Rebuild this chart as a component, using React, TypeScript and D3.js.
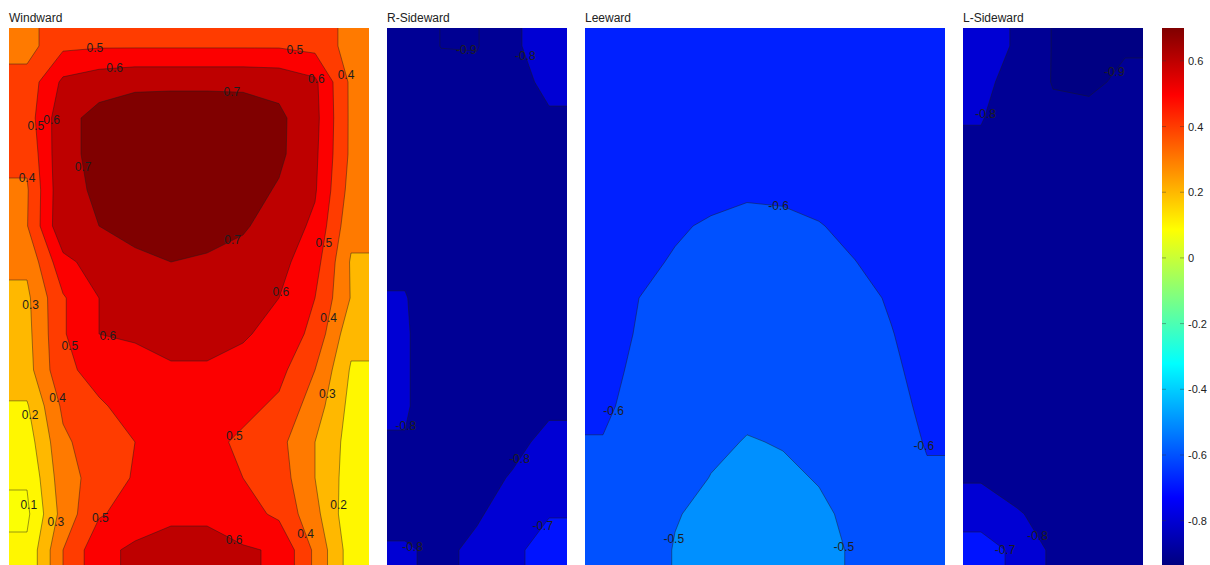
import React from 'react';
import * as d3 from 'd3';

// ---------- data ----------
const CMIN = -0.935;
const CMAX = 0.7;
const colorbarTicks = [-0.8, -0.6, -0.4, -0.2, 0, 0.2, 0.4, 0.6];

const panelTitles = ['Windward', 'R-Sideward', 'Leeward', 'L-Sideward'];

const windwardLevels = [0.1, 0.2, 0.3, 0.4, 0.5, 0.6, 0.7];
const rSideLevels = [-0.9, -0.8, -0.7];
const leewardLevels = [-0.6, -0.5];
const lSideLevels = [-0.9, -0.8, -0.7, -0.6];

const windwardGrid = [
  [0.36, 0.48, 0.49, 0.49, 0.49, 0.49, 0.49, 0.49, 0.47, 0.36],
  [0.44, 0.62, 0.66, 0.68, 0.68, 0.68, 0.68, 0.67, 0.62, 0.38],
  [0.45, 0.67, 0.73, 0.75, 0.76, 0.76, 0.75, 0.72, 0.63, 0.38],
  [0.42, 0.68, 0.72, 0.76, 0.77, 0.77, 0.76, 0.72, 0.62, 0.38],
  [0.39, 0.68, 0.71, 0.75, 0.76, 0.76, 0.74, 0.69, 0.61, 0.36],
  [0.395, 0.685, 0.70, 0.73, 0.74, 0.73, 0.71, 0.66, 0.58, 0.33],
  [0.32, 0.57, 0.65, 0.68, 0.70, 0.69, 0.67, 0.63, 0.54, 0.29],
  [0.28, 0.49, 0.60, 0.64, 0.66, 0.66, 0.64, 0.60, 0.50, 0.295],
  [0.27, 0.49, 0.60, 0.61, 0.63, 0.63, 0.61, 0.57, 0.47, 0.23],
  [0.26, 0.48, 0.53, 0.57, 0.59, 0.59, 0.57, 0.53, 0.40, 0.19],
  [0.19, 0.42, 0.49, 0.53, 0.56, 0.56, 0.53, 0.48, 0.35, 0.17],
  [0.15, 0.38, 0.46, 0.50, 0.53, 0.53, 0.48, 0.43, 0.30, 0.16],
  [0.11, 0.36, 0.44, 0.51, 0.54, 0.54, 0.50, 0.45, 0.30, 0.15],
  [0.08, 0.34, 0.49, 0.54, 0.58, 0.58, 0.54, 0.48, 0.33, 0.13],
  [0.12, 0.40, 0.57, 0.62, 0.64, 0.64, 0.61, 0.59, 0.38, 0.15],
];

const rSideGrid = [
  [-0.84, -0.902, -0.905, -0.82, -0.74],
  [-0.85, -0.87, -0.87, -0.83, -0.78],
  [-0.84, -0.86, -0.86, -0.85, -0.81],
  [-0.84, -0.86, -0.86, -0.86, -0.85],
  [-0.84, -0.86, -0.86, -0.86, -0.85],
  [-0.83, -0.86, -0.86, -0.86, -0.85],
  [-0.82, -0.86, -0.86, -0.86, -0.85],
  [-0.795, -0.86, -0.86, -0.86, -0.85],
  [-0.79, -0.86, -0.86, -0.86, -0.85],
  [-0.79, -0.86, -0.86, -0.86, -0.85],
  [-0.79, -0.86, -0.86, -0.85, -0.82],
  [-0.805, -0.86, -0.86, -0.83, -0.77],
  [-0.84, -0.85, -0.84, -0.79, -0.73],
  [-0.83, -0.84, -0.81, -0.76, -0.705],
  [-0.79, -0.82, -0.78, -0.72, -0.66],
];

const leewardGrid = [
  [-0.68, -0.68, -0.68, -0.675, -0.67, -0.67, -0.675, -0.68, -0.68, -0.68],
  [-0.68, -0.68, -0.675, -0.67, -0.665, -0.665, -0.67, -0.675, -0.68, -0.68],
  [-0.675, -0.675, -0.67, -0.66, -0.65, -0.65, -0.66, -0.67, -0.675, -0.675],
  [-0.67, -0.665, -0.655, -0.64, -0.63, -0.63, -0.64, -0.655, -0.665, -0.67],
  [-0.66, -0.65, -0.635, -0.62, -0.608, -0.61, -0.62, -0.635, -0.65, -0.66],
  [-0.645, -0.63, -0.608, -0.592, -0.585, -0.588, -0.597, -0.615, -0.635, -0.645],
  [-0.635, -0.615, -0.594, -0.58, -0.575, -0.575, -0.583, -0.599, -0.62, -0.635],
  [-0.63, -0.60, -0.585, -0.575, -0.57, -0.57, -0.575, -0.585, -0.605, -0.625],
  [-0.625, -0.595, -0.58, -0.565, -0.555, -0.555, -0.565, -0.575, -0.598, -0.62],
  [-0.615, -0.59, -0.57, -0.55, -0.54, -0.54, -0.55, -0.565, -0.592, -0.615],
  [-0.608, -0.585, -0.56, -0.54, -0.52, -0.525, -0.54, -0.56, -0.585, -0.61],
  [-0.598, -0.578, -0.55, -0.52, -0.495, -0.505, -0.525, -0.55, -0.58, -0.603],
  [-0.59, -0.57, -0.54, -0.497, -0.48, -0.485, -0.505, -0.535, -0.565, -0.595],
  [-0.585, -0.56, -0.505, -0.48, -0.47, -0.47, -0.485, -0.52, -0.56, -0.59],
  [-0.58, -0.55, -0.495, -0.47, -0.46, -0.46, -0.475, -0.51, -0.555, -0.585],
];

const lSideGrid = [
  [-0.76, -0.81, -0.905, -0.93, -0.91],
  [-0.78, -0.83, -0.905, -0.92, -0.88],
  [-0.795, -0.85, -0.88, -0.87, -0.87],
  [-0.82, -0.86, -0.87, -0.87, -0.87],
  [-0.84, -0.86, -0.87, -0.87, -0.87],
  [-0.84, -0.86, -0.87, -0.87, -0.87],
  [-0.84, -0.86, -0.87, -0.87, -0.87],
  [-0.84, -0.86, -0.87, -0.87, -0.87],
  [-0.84, -0.86, -0.87, -0.87, -0.87],
  [-0.84, -0.86, -0.87, -0.87, -0.87],
  [-0.84, -0.86, -0.87, -0.87, -0.87],
  [-0.83, -0.86, -0.87, -0.87, -0.87],
  [-0.81, -0.85, -0.86, -0.87, -0.87],
  [-0.74, -0.79, -0.84, -0.86, -0.87],
  [-0.66, -0.72, -0.82, -0.85, -0.86],
];

// contour labels: [level, approx column, approx row] in grid units
const windwardLabels = [
  [0.5, 2.39, 0.61], [0.5, 7.94, 0.61], [0.6, 2.94, 1.17], [0.6, 8.42, 1.5],
  [0.4, 9.56, 1.25], [0.7, 6.19, 1.78], [0.5, 0.78, 2.72], [0.6, 1.28, 2.56],
  [0.4, 0.58, 4.08], [0.7, 2.11, 3.86], [0.7, 6.28, 6.03], [0.5, 8.78, 5.97],
  [0.6, 7.61, 7.36], [0.3, 0.58, 7.69], [0.6, 2.81, 8.31], [0.4, 8.92, 8.06],
  [0.5, 1.75, 8.81], [0.4, 1.42, 10.25], [0.3, 9.0, 10.19], [0.2, 0.58, 10.75],
  [0.5, 6.42, 11.5], [0.1, 0.53, 13.25], [0.3, 1.28, 13.72], [0.5, 2.61, 13.72],
  [0.2, 9.0, 13.25], [0.4, 8.36, 14.0], [0.6, 6.14, 14.44],
];
const rSideLabels = [
  [-0.9, 2.22, 0.39], [-0.8, 3.89, 0.75], [-0.8, 0.64, 11.08],
  [-0.8, 3.92, 12.14], [-0.7, 4.39, 13.89], [-0.8, 0.58, 14.58],
];
const leewardLabels = [
  [-0.6, 5.36, 5.11], [-0.6, 0.75, 10.61], [-0.6, 9.53, 11.58],
  [-0.5, 2.5, 14.19], [-0.5, 6.89, 14.5],
];
const lSideLabels = [
  [-0.9, 4.0, 1.08], [-0.8, 0.75, 2.42], [-0.8, 2.28, 14.0], [-0.7, 1.44, 14.31],
];

// ---------- helpers ----------
function jet(t: number) {
  const c = (v: number) => Math.max(0, Math.min(1, v));
  const r = c(Math.min(4 * t - 1.5, -4 * t + 4.5));
  const g = c(Math.min(4 * t - 0.5, -4 * t + 3.5));
  const b = c(Math.min(4 * t + 0.5, -4 * t + 2.5));
  return d3.rgb(r * 255, g * 255, b * 255).formatHex();
}
const norm = d3.scaleLinear().domain([CMIN, CMAX]).range([0, 1]).clamp(true);
const colorOf = (v: number) => jet(norm(v));

const FONT = "'Liberation Sans', Arial, Helvetica, sans-serif";
const TOP = 28;
const CELL = 36;

// nearest point on a level's contour (ignoring the padded outer frame)
function snap(coords: number[][][][], gx: number, gy: number, n: number, m: number) {
  let best: number[] | null = null;
  let bd = Infinity;
  for (const poly of coords) {
    for (const ring of poly) {
      for (let i = 0; i < ring.length - 1; i++) {
        const a = ring[i], b = ring[i + 1];
        if (a[0] <= 0.6 || a[0] >= n - 0.6 || a[1] <= 0.6 || a[1] >= m - 0.6) continue;
        if (b[0] <= 0.6 || b[0] >= n - 0.6 || b[1] <= 0.6 || b[1] >= m - 0.6) continue;
        const dx = b[0] - a[0], dy = b[1] - a[1];
        const L = dx * dx + dy * dy;
        let t = L ? ((gx - a[0]) * dx + (gy - a[1]) * dy) / L : 0;
        t = Math.max(0, Math.min(1, t));
        const px = a[0] + t * dx, py = a[1] + t * dy;
        const d = (px - gx) ** 2 + (py - gy) ** 2;
        if (d < bd) { bd = d; best = [px, py]; }
      }
    }
  }
  return best && bd < 2.25 ? best : [gx, gy];
}

function Panel({ id, title, grid, levels, labels, x0 }: any) {
  const rows = grid.length;
  const cols = grid[0].length;
  // replicate the edge samples once so the fill reaches the panel border
  const padded: number[][] = [grid[0], ...grid, grid[rows - 1]].map((r: number[]) => [r[0], ...r, r[r.length - 1]]);
  const pc = cols + 2, pr = rows + 2;
  const xs = d3.scaleLinear().domain([1, cols + 1]).range([x0, x0 + cols * CELL]);
  const ys = d3.scaleLinear().domain([1, rows + 1]).range([TOP, TOP + rows * CELL]);
  const flat: number[] = padded.flat();
  const contours = d3.contours().size([pc, pr]).thresholds(levels)(flat);
  const path = d3.geoPath(
    d3.geoTransform({
      point(this: any, x: number, y: number) {
        this.stream.point(xs(x), ys(y));
      },
    })
  );
  const minV = d3.min(flat) as number;
  const clipId = `clip-${id}`;
  const px0 = xs(1), py0 = ys(1), pw = xs(cols + 1) - xs(1), ph = ys(rows + 1) - ys(1);
  return (
    <g>
      <text x={x0} y={22} fontFamily={FONT} fontSize={12} fill="#222">{title}</text>
      <defs>
        <clipPath id={clipId}>
          <rect x={px0} y={py0} width={pw} height={ph} />
        </clipPath>
      </defs>
      <g clipPath={`url(#${clipId})`}>
        <rect x={px0} y={py0} width={pw} height={ph} fill={colorOf(minV)} />
        {contours.map((c, i) => (
          <path key={i} d={path(c as any) || ''} fill={colorOf(c.value)}
            stroke="#1a1a1a" strokeWidth={0.6} strokeOpacity={0.75} />
        ))}
      </g>
      {labels.map((lb: number[], i: number) => {
        const idx = levels.indexOf(lb[0]);
        const c = contours[idx];
        const p = c ? snap(c.coordinates as any, lb[1] + 1, lb[2] + 1, pc, pr) : [lb[1] + 1, lb[2] + 1];
        return (
          <text key={i} x={xs(p[0])} y={ys(p[1])} textAnchor="middle" dominantBaseline="central"
            fontFamily={FONT} fontSize={12} fill="#1e1e1e">{String(lb[0])}</text>
        );
      })}
    </g>
  );
}

function Colorbar({ x0, width }: any) {
  const ys = d3.scaleLinear().domain([CMIN, CMAX]).range([565, TOP]);
  const stops = d3.range(0, 65).map((i) => i / 64);
  return (
    <g>
      <defs>
        <linearGradient id="jetgrad" x1="0" y1="1" x2="0" y2="0">
          {stops.map((s, i) => (
            <stop key={i} offset={s} stopColor={jet(s)} />
          ))}
        </linearGradient>
      </defs>
      <rect x={x0} y={ys(CMAX)} width={width} height={ys(CMIN) - ys(CMAX)} fill="url(#jetgrad)" />
      {colorbarTicks.map((t, i) => (
        <g key={i}>
          <line x1={x0} x2={x0 + 4} y1={ys(t)} y2={ys(t)} stroke="#333" strokeWidth={0.7} strokeOpacity={0.6} />
          <line x1={x0 + width - 4} x2={x0 + width} y1={ys(t)} y2={ys(t)} stroke="#333" strokeWidth={0.7} strokeOpacity={0.6} />
          <text x={x0 + width + 4} y={ys(t)} dominantBaseline="central" fontFamily={FONT} fontSize={11} fill="#222">
            {String(t)}
          </text>
        </g>
      ))}
    </g>
  );
}

export default function App() {
  const panels = [
    { id: 'w', grid: windwardGrid, levels: windwardLevels, labels: windwardLabels, x0: 9 },
    { id: 'r', grid: rSideGrid, levels: rSideLevels, labels: rSideLabels, x0: 387 },
    { id: 'l', grid: leewardGrid, levels: leewardLevels, labels: leewardLabels, x0: 585 },
    { id: 's', grid: lSideGrid, levels: lSideLevels, labels: lSideLabels, x0: 963 },
  ];
  return (
    <svg width={1210} height={565} style={{ position: 'absolute', left: 0, top: 0, background: '#fff', display: 'block' }}>
      {panels.map((p, i) => (
        <Panel key={p.id} {...p} title={panelTitles[i]} />
      ))}
      <Colorbar x0={1162} width={22} />
    </svg>
  );
}
